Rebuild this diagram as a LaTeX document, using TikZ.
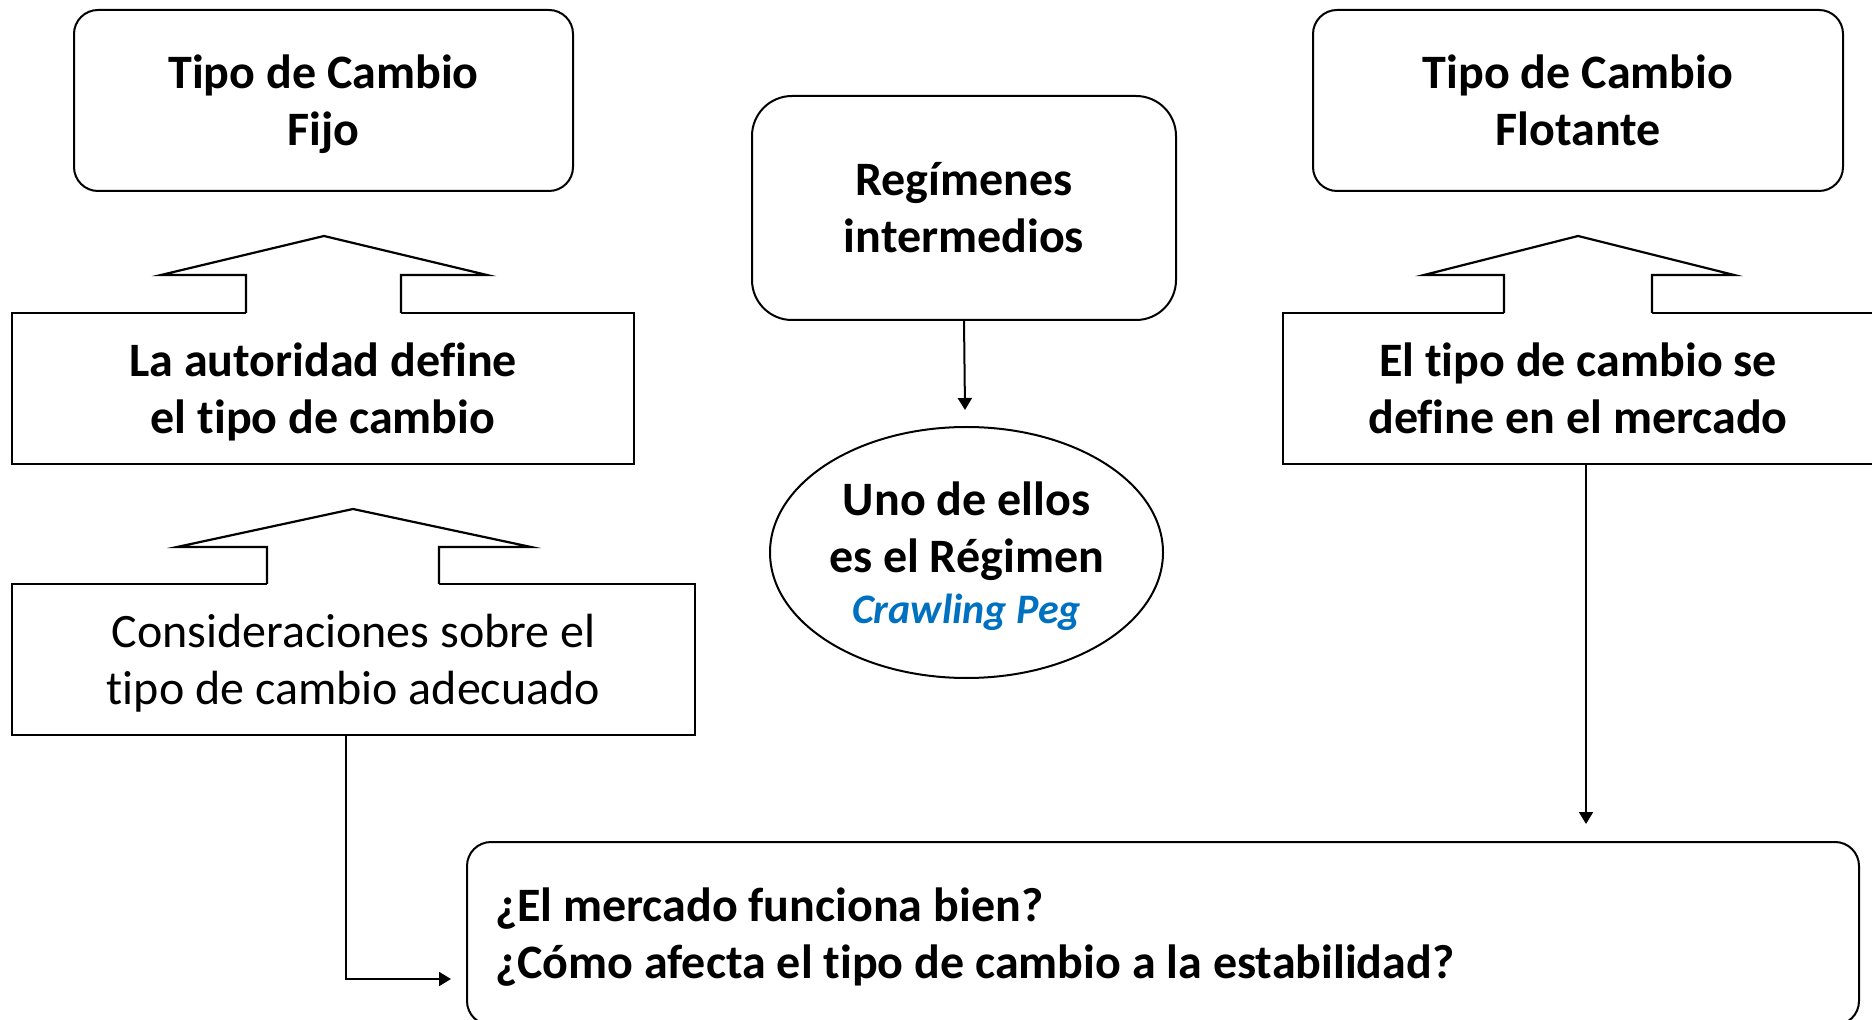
\documentclass[tikz,border=0pt]{standalone}
\usepackage{fontspec}
\setmainfont{Carlito}[Ligatures={NoCommon,NoContextual}]
\usetikzlibrary{arrows.meta,shapes.geometric}
\definecolor{pegblue}{HTML}{0070C0}
\begin{document}
\begin{tikzpicture}[x=0.5pt,y=-0.5pt,
  every node/.style={font=\fontsize{24}{28.5}\selectfont, align=center, inner sep=0pt},
  bf/.style={font=\fontsize{24}{28.5}\selectfont\bfseries},
  rbox/.style={draw, line width=1pt, rounded corners=12pt},
  sbox/.style={draw, line width=1pt},
  arr/.style={line width=1pt, -{Triangle[length=6pt,width=7pt]}},
  blk/.style={line width=1.1pt, line join=miter}]
\useasboundingbox (0,0) rectangle (1872,1020);

% top boxes
\node[rbox, bf, minimum width=249.5pt, minimum height=90.5pt] (fijo) at (323.5,100.5) {Tipo de Cambio\\\smash{Fijo}};
\node[rbox, bf, minimum width=265pt, minimum height=90.5pt] (flot) at (1578,100.5) {Tipo de Cambio\\Flotante};
\node[rbox, bf, rounded corners=20pt, minimum width=212pt, minimum height=112pt] (mid) at (964,208) {Regímenes\\intermedios};

% middle rectangles
\node[sbox, bf, minimum width=311pt, minimum height=75.5pt] (aut) at (323,388.5) {La autoridad define\\\smash{el tipo de cambio}};
\node[sbox, bf, minimum width=295pt, minimum height=75.5pt] (mer) at (1578,388.5) {El tipo de cambio se\\define en el mercado};
\node[sbox, minimum width=341.5pt, minimum height=75.5pt] (cons) at (353.5,659.5) {Consideraciones sobre el\\\smash{tipo de cambio adecuado}};

% ellipse
\node[draw, ellipse, line width=1pt, bf, minimum width=196.5pt, minimum height=125.5pt] (ell) at (966.5,552.5) {Uno de ellos\\es el Régimen\\[-3pt]\smash{\fontsize{21}{25}\selectfont\color{pegblue}\itshape Crawling Peg}};

% bottom box
\node[rbox, bf, minimum width=696pt, minimum height=91.5pt, text width=668pt, align=flush left, inner xsep=14pt] (q) at (1163,933.5) {¿El mercado funciona bien?\\\smash{¿Cómo afecta el tipo de cambio a la estabilidad?}};

% block arrows
\fill[white] (246,315) -- (246,275) -- (161,275) -- (324,236) -- (487,275) -- (401,275) -- (401,315) -- cycle;
\draw[blk] (246,313) -- (246,275) -- (161,275) -- (324,236) -- (487,275) -- (401,275) -- (401,313);

\fill[white] (267,586) -- (267,547) -- (177,547) -- (353,509) -- (531,547) -- (439,547) -- (439,586) -- cycle;
\draw[blk] (267,584) -- (267,547) -- (177,547) -- (353,509) -- (531,547) -- (439,547) -- (439,584);

\fill[white] (1504,315) -- (1504,275) -- (1424,275) -- (1578,236) -- (1734,275) -- (1652,275) -- (1652,315) -- cycle;
\draw[blk] (1504,313) -- (1504,275) -- (1424,275) -- (1578,236) -- (1734,275) -- (1652,275) -- (1652,313);

% connectors
\coordinate (c1) at (451,979);
\coordinate (c2) at (1586,824);
\coordinate (c3) at (965,410);
\draw[arr] ([xshift=-3.75pt]cons.south) |- (c1);
\draw[arr] ([xshift=4pt]mer.south) -- (c2);
\draw[arr] (mid.south) -- (c3);
\end{tikzpicture}
\end{document}
